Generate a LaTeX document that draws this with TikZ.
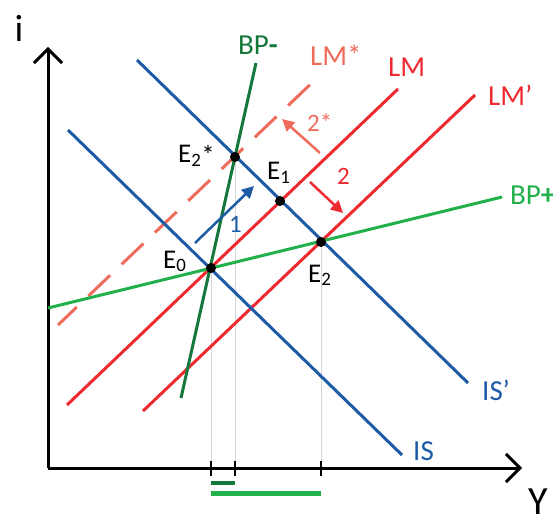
\documentclass[tikz,border=0pt]{standalone}
\usepackage{fontspec}
\setmainfont{Carlito}
\usetikzlibrary{arrows.meta}
\definecolor{isblue}{HTML}{1D5BA6}
\definecolor{lmred}{HTML}{EC2A30}
\definecolor{lmsalmon}{HTML}{EF6B5C}
\definecolor{bpdark}{HTML}{14783A}
\definecolor{bplight}{HTML}{21B04C}
\definecolor{guidegray}{HTML}{D6D6D6}
\tikzset{
  curve/.style={line width=3pt},
  axis/.style={line width=3pt, -{Straight Barb[length=14pt,width=28pt,line width=3pt]}},
  lbl/.style={inner sep=0pt, anchor=base west, font=\fontsize{29}{32}\selectfont},
  elbl/.style={inner sep=0pt, anchor=base west, font=\fontsize{27}{30}\selectfont},
  numlbl/.style={inner sep=0pt, anchor=base west, font=\fontsize{25}{28}\selectfont},
  dot/.style={circle, fill=black, inner sep=0pt, minimum size=10pt},
  guide/.style={draw=guidegray, line width=1pt},
  tickmark/.style={line width=2.5pt},
  shiftarrow/.style={line width=2.5pt, -{Triangle[length=12pt,width=12pt]}},
  barline/.style={line width=5pt}
}
\begin{document}
\begin{tikzpicture}[x=1pt,y=-1pt]
\useasboundingbox (0,0) rectangle (553,518);
% coordinates
\coordinate (O) at (48,468);
\coordinate (ytop) at (48,47);
\coordinate (xend) at (522,468);
\coordinate (isA) at (68,130);   \coordinate (isB) at (402,455);
\coordinate (ispA) at (137,60);  \coordinate (ispB) at (468,383);
\coordinate (lmA) at (67,405);   \coordinate (lmB) at (398,89);
\coordinate (lmpA) at (143,411); \coordinate (lmpB) at (475,95);
\coordinate (lmsA) at (58,325);  \coordinate (lmsB) at (317,78);
\coordinate (bpmA) at (181,398); \coordinate (bpmB) at (256,63);
\coordinate (bppA) at (48,308);  \coordinate (bppB) at (502,197);
\coordinate (e0) at (211,268);
\coordinate (e2s) at (235,157);
\coordinate (e1) at (280,201);
\coordinate (e2) at (321,242);
\coordinate (g0) at (211,468);
\coordinate (g2s) at (235,468);
\coordinate (g2) at (321,468);
% guides
\draw[guide] (e0) -- (g0);
\draw[guide] (e2s) -- (g2s);
\draw[guide] (e2) -- (g2);
% axes
\draw[axis] (O) -- (ytop);
\draw[axis] (O) -- (xend);
\node[inner sep=0pt, anchor=base, font=\fontsize{38}{40}\selectfont] (ilbl) at (19,42) {i};
\node[inner sep=0pt, anchor=base west, font=\fontsize{40}{42}\selectfont] (Ylbl) at (528,514) {Y};
% ticks
\draw[tickmark] ([yshift=-8pt]g0) -- ([yshift=7pt]g0);
\draw[tickmark] ([yshift=-8pt]g2s) -- ([yshift=7pt]g2s);
\draw[tickmark] ([yshift=-8pt]g2) -- ([yshift=7pt]g2);
% bars
\coordinate (b1a) at (211,483); \coordinate (b1b) at (235,483);
\coordinate (b2a) at (211,493); \coordinate (b2b) at (321,493);
\draw[barline, bpdark, line width=4pt] (b1a) -- (b1b);
\draw[barline, bplight] (b2a) -- (b2b);
% curves
\draw[curve, lmsalmon, dash pattern=on 30pt off 16pt, dash phase=4pt] (lmsA) -- (lmsB);
\draw[curve, lmred] (lmA) -- (lmB);
\draw[curve, lmred] (lmpA) -- (lmpB);
\draw[curve, bplight] (bppA) -- (bppB);
\draw[curve, bpdark] (bpmA) -- (bpmB);
\draw[curve, isblue] (isA) -- (isB);
\draw[curve, isblue] (ispA) -- (ispB);
% curve labels
\node[lbl, bpdark] (bpmlbl) at (238,55) {BP{\bfseries -}};
\node[lbl, lmsalmon] (lmslbl) at (310,66) {LM*};
\node[lbl, lmred] (lmlbl) at (388,77) {LM};
\node[lbl, lmred] (lmplbl) at (488,106) {LM’};
\node[lbl, bplight] (bpplbl) at (510,205) {BP{\bfseries +}};
\node[lbl, isblue] (isplbl) at (482,400) {IS’};
\node[lbl, isblue] (islbl) at (413,460) {IS};
% equilibrium dots
\node[dot] (E0) at (e0) {};
\node[dot] (E2s) at (e2s) {};
\node[dot] (E1) at (e1) {};
\node[dot] (E2) at (e2) {};
\node[elbl] (E0lbl) at (163,268) {E\textsubscript{0}};
\node[elbl] (E2slbl) at (178,163) {E\textsubscript{2}\raisebox{-2pt}{*}};
\node[elbl] (E1lbl) at (267,180) {E\textsubscript{1}};
\node[elbl] (E2lbl) at (308,282) {E\textsubscript{2}};
% shift arrows
\coordinate (a1s) at (195,243); \coordinate (a1e) at (254,186);
\coordinate (a2s) at (310,182); \coordinate (a2e) at (343,213);
\coordinate (a3s) at (320,153); \coordinate (a3e) at (282,119);
\draw[shiftarrow, isblue] (a1s) -- (a1e);
\draw[shiftarrow, lmred] (a2s) -- (a2e);
\draw[shiftarrow, lmsalmon] (a3s) -- (a3e);
\node[numlbl, isblue] (n1) at (229,233) {1};
\node[numlbl, lmred] (n2) at (337,185) {2};
\node[numlbl, lmsalmon] (n3) at (307,132) {2*};
\end{tikzpicture}
\end{document}
